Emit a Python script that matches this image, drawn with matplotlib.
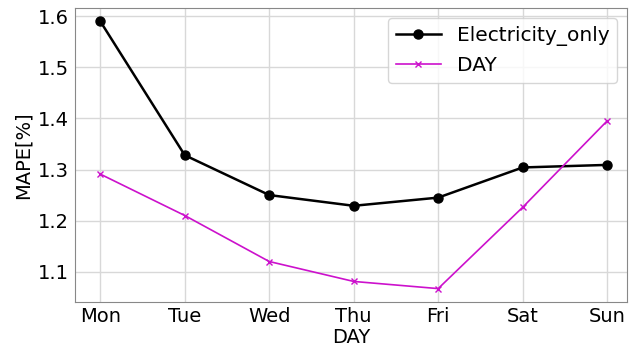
import numpy as np
import matplotlib.pyplot as plt

# --- Données ---
days = ['Mon', 'Tue', 'Wed', 'Thu', 'Fri', 'Sat', 'Sun']
elec_only = [1.590, 1.328, 1.250, 1.229, 1.245, 1.304, 1.309]
day_model = [1.291, 1.210, 1.120, 1.081, 1.067, 1.226, 1.395]

# --- Affichage ---
fig, ax = plt.subplots(figsize=(6.35, 3.47), dpi=100)

x = np.arange(len(days))
ax.plot(x, elec_only, color='black', marker='o', markersize=6.5, linewidth=1.8,
        label='Electricity_only')
ax.plot(x, day_model, color='#cc11cc', marker='x', markersize=5, linewidth=1.2,
        label='DAY')

ax.set_xticks(x)
ax.set_xticklabels(days)
ax.set_xlim(-0.3, 6.24)
ax.set_ylim(1.041, 1.616)
ax.set_yticks([1.1, 1.2, 1.3, 1.4, 1.5, 1.6])
ax.tick_params(labelsize=14, length=0, pad=4)
ax.grid(True, color='#d8d8d8', linewidth=1)
for s in ax.spines.values():
    s.set_color('#888888')

ax.set_xlabel('DAY', fontsize=14, labelpad=1)
ax.set_ylabel('MAPE[%]', fontsize=14)
ax.legend(fontsize=14.5, loc='upper right', handlelength=2.2)

plt.subplots_adjust(left=0.118, right=0.988, top=0.977, bottom=0.13)
plt.savefig('out.png', dpi=100)
